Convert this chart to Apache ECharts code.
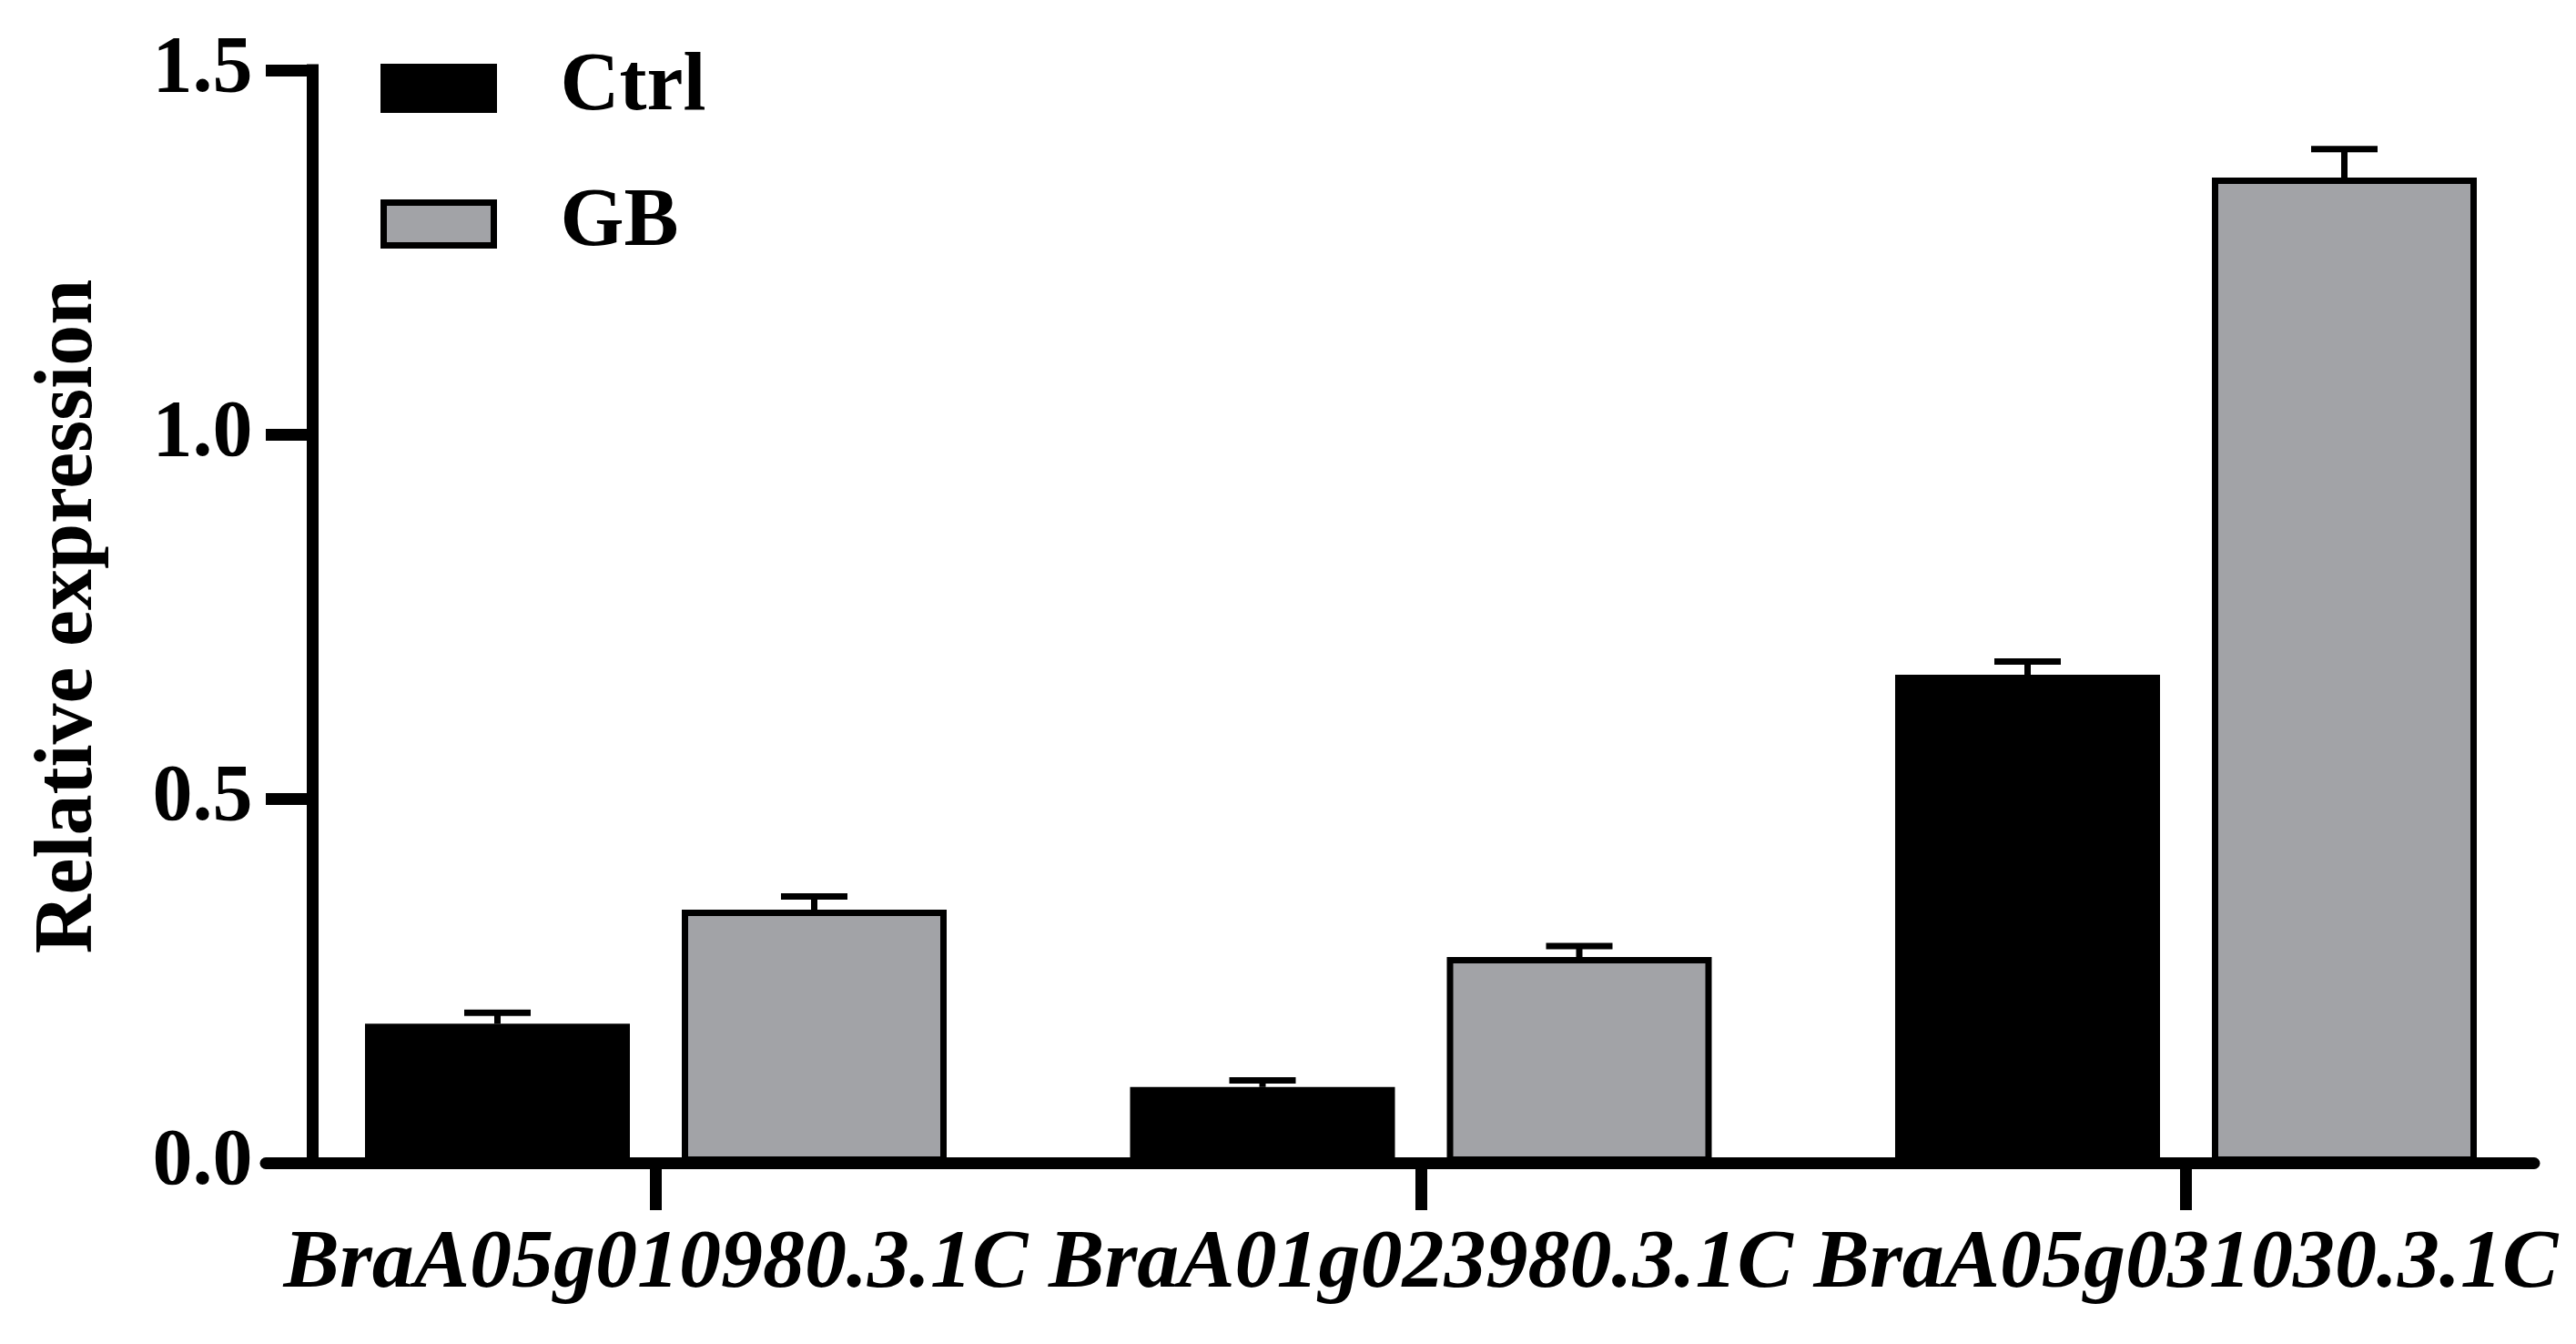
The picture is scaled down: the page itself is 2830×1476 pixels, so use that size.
<!DOCTYPE html>
<html>
<head>
<meta charset="utf-8">
<title>Relative expression</title>
<script src="https://cdn.jsdelivr.net/npm/echarts@6/dist/echarts.min.js"></script>
<style>
  html, body { margin: 0; padding: 0; background: #fff; }
  #chart { width: 2830px; height: 1476px; }
</style>
</head>
<body>
<div id="chart"></div>
<script>
  // values
  const categories = ['BraA05g010980.3.1C', 'BraA01g023980.3.1C', 'BraA05g031030.3.1C'];
  const ctrlValues = [0.191, 0.104, 0.670];
  const ctrlErrors = [0.015, 0.009, 0.018];
  const gbValues = [0.3475, 0.2825, 1.3525];
  const gbErrors = [0.018, 0.015, 0.039];
  const yTicks = [0.0, 0.5, 1.0, 1.5];

  const FONT = 'Liberation Serif';
  const GRAY = '#a2a3a7';
  const BAR_W = 291;       // border is drawn inside this width
  const BAR_STEP = 348;    // distance between the two bar centres
  const CAP = 73;

  // upward error bar, shifted to the bar centre of one group
  function errorBars(offset) {
    return function (params, api) {
      const idx = api.value(0);
      const base = api.coord([idx, api.value(1)]);
      const top = api.coord([idx, api.value(1) + api.value(2)]);
      const x = base[0] + offset;
      const style = { stroke: '#000', lineWidth: 7 };
      return {
        type: 'group',
        children: [
          { type: 'line', shape: { x1: x, y1: base[1], x2: x, y2: top[1] }, style: style },
          { type: 'line', shape: { x1: x - CAP / 2, y1: top[1], x2: x + CAP / 2, y2: top[1] }, style: style }
        ]
      };
    };
  }

  const chart = echarts.init(document.getElementById('chart'));
  chart.setOption({
    backgroundColor: '#fff',
    animation: false,
    textStyle: { fontFamily: FONT },
    legend: {
      orient: 'vertical',
      left: 413,
      top: 47,
      itemWidth: 121,
      itemHeight: 47,
      itemGap: 59,
      selectedMode: false,
      textStyle: { fontFamily: FONT, fontWeight: 'bold', fontSize: 90, color: '#000', padding: [0, 0, 0, 68] },
      data: [
        { name: 'Ctrl', icon: 'rect', itemStyle: { color: '#000', borderColor: '#000', borderWidth: 7 } },
        { name: 'GB', icon: 'rect', itemStyle: { color: GRAY, borderColor: '#000', borderWidth: 7 } }
      ]
    },
    grid: [
      // bars: category bands 840.5px wide
      { left: 300.25, right: 8.25, top: 77, bottom: 199 },
      // axes frame
      { left: 292, right: 46, top: 77, bottom: 199 }
    ],
    xAxis: [
      {
        type: 'category',
        gridIndex: 0,
        data: categories,
        axisLine: { show: false },
        axisTick: { show: true, alignWithLabel: true, length: 52, lineStyle: { color: '#000', width: 13 } },
        axisLabel: {
          interval: 0,
          margin: 66,
          color: '#000',
          fontFamily: FONT,
          fontSize: 92,
          fontWeight: 'bold',
          fontStyle: 'italic'
        },
        splitLine: { show: false }
      },
      {
        type: 'value',
        gridIndex: 1,
        min: 0,
        max: 1,
        axisLine: { show: true, onZero: false, lineStyle: { color: '#000', width: 13 } },
        axisTick: { show: false },
        axisLabel: { show: false },
        splitLine: { show: false }
      }
    ],
    yAxis: [
      {
        type: 'value',
        gridIndex: 0,
        min: yTicks[0],
        max: yTicks[yTicks.length - 1],
        show: false
      },
      {
        type: 'value',
        gridIndex: 1,
        min: yTicks[0],
        max: yTicks[yTicks.length - 1],
        interval: yTicks[1] - yTicks[0],
        offset: -51.5,
        name: 'Relative expression',
        nameLocation: 'middle',
        nameGap: 222,
        nameTextStyle: { color: '#000', fontFamily: FONT, fontSize: 90, fontWeight: 'bold' },
        axisLine: { show: true, onZero: false, lineStyle: { color: '#000', width: 13, cap: 'square' } },
        axisTick: { show: true, length: 51.5, lineStyle: { color: '#000', width: 13 } },
        axisLabel: {
          margin: 66,
          color: '#000',
          fontFamily: FONT,
          fontSize: 88,
          fontWeight: 'bold',
          formatter: function (v) { return v.toFixed(1); }
        },
        splitLine: { show: false }
      }
    ],
    series: [
      {
        name: 'Ctrl',
        type: 'bar',
        xAxisIndex: 0,
        yAxisIndex: 0,
        barWidth: BAR_W,
        barGap: ((BAR_STEP / BAR_W - 1) * 100).toFixed(2) + '%',
        itemStyle: { color: '#000', borderColor: '#000', borderWidth: 7 },
        data: ctrlValues
      },
      {
        name: 'GB',
        type: 'bar',
        xAxisIndex: 0,
        yAxisIndex: 0,
        barWidth: BAR_W,
        barGap: ((BAR_STEP / BAR_W - 1) * 100).toFixed(2) + '%',
        itemStyle: { color: GRAY, borderColor: '#000', borderWidth: 7 },
        data: gbValues
      },
      {
        type: 'custom',
        xAxisIndex: 0,
        yAxisIndex: 0,
        z: 5,
        renderItem: errorBars(-BAR_STEP / 2),
        encode: { x: 0, y: 1 },
        data: categories.map(function (c, i) { return [i, ctrlValues[i], ctrlErrors[i]]; })
      },
      {
        type: 'custom',
        xAxisIndex: 0,
        yAxisIndex: 0,
        z: 5,
        renderItem: errorBars(BAR_STEP / 2),
        encode: { x: 0, y: 1 },
        data: categories.map(function (c, i) { return [i, gbValues[i], gbErrors[i]]; })
      }
    ]
  });
</script>
</body>
</html>
